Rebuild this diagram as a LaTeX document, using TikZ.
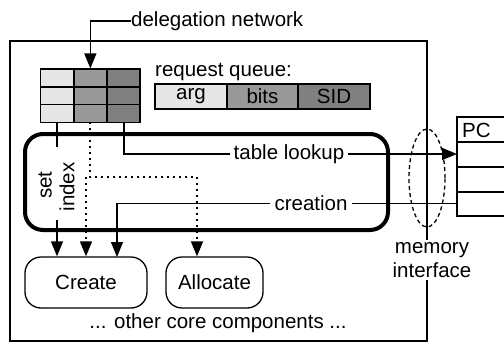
\documentclass[tikz,border=0pt]{standalone}
\usepackage{fontspec}
\setmainfont{Liberation Sans}
\usetikzlibrary{arrows.meta}
\definecolor{lg}{HTML}{E6E6E6}
\definecolor{mg}{HTML}{999999}
\definecolor{dg}{HTML}{808080}
\begin{document}
\begin{tikzpicture}[x=1pt,y=-1pt,
  font=\fontsize{20.5}{24}\selectfont,
  thinln/.style={line width=1.3pt},
  arr/.style={thinln,-{Triangle[length=15pt,width=12pt]}},
  dotln/.style={line width=1.6pt,dash pattern=on 1.6pt off 4.4pt},
  dotarr/.style={dotln,-{Triangle[length=15pt,width=12pt]}},
  cellbox/.style={draw,line width=1.4pt,minimum width=33.1pt,minimum height=17.7pt,inner sep=0pt},
  qcell/.style={draw,line width=1.4pt,minimum height=25pt,inner sep=0pt},
  lbl/.style={inner sep=4pt},
  comp/.style={draw,thinln,rounded corners=16pt,minimum width=122pt,minimum height=51pt,inner sep=0pt}]
\useasboundingbox (0,0) rectangle (504,343);

% outer box
\draw[thinln] (10,41) rectangle (427,341);

% table
\foreach \r/\y in {1/78.0,2/95.7,3/113.4}{
  \node[cellbox,fill=lg] (t\r a) at (57.25,\y) {};
  \node[cellbox,fill=mg] (t\r b) at (90.35,\y) {};
  \node[cellbox,fill=dg] (t\r c) at (123.45,\y) {};
}
\coordinate (c1) at (57,122.3);
\coordinate (c2) at (90,122.3);
\coordinate (c3) at (124,122.3);

% delegation network
\node[anchor=west,inner sep=0pt] (deleg) at (131,21) {delegation network};
\draw[arr] (deleg.west) -| (t1b.north);

% request queue
\node[anchor=west,inner sep=0pt] (rq) at (155,72) {request queue:};
\node[qcell,fill=lg,minimum width=72pt] (arg) at (191,96.5) {arg};
\node[qcell,fill=mg,minimum width=71pt] (bits) at (262.5,96.5) {bits};
\node[qcell,fill=dg,minimum width=72pt] (sid) at (334,96.5) {SID};

% thick rounded box
\draw[line width=4pt,rounded corners=18pt] (25,134) rectangle (388,230);

% components
\node[comp] (create) at (86,282.5) {Create};
\node[comp,minimum width=97pt] (alloc) at (214.5,282.5) {Allocate};
\node (other) at (218,323) {... other core components ...};

% set index
\node[rotate=90,inner sep=0pt] (set) at (45,185) {set};
\node[rotate=90,inner sep=0pt] (index) at (67,187) {index};
\draw[thinln] (c1) -- (57,147);
\coordinate (s1) at (57,220);
\draw[arr] (s1) -- (s1 |- create.north);

% dotted
\coordinate (j1) at (90,177);
\coordinate (j2) at (86,177);
\coordinate (j3) at (197,177);
\draw[dotln] (c2) -- (j1) -- (j3);
\draw[dotarr] (j3) -- (j3 |- alloc.north);
\draw[dotarr] (j2) -- (j2 |- create.north);

% PC box
\coordinate (pctl) at (457,117);
\draw[thinln] (510,117) -- (pctl) -- (457,216) -- (510,216);
\foreach \y in {142,167,192}{\draw[thinln] (457,\y) -- (510,\y);}
\node[anchor=west,inner sep=0pt] (pc) at (462,130) {PC};
\coordinate (pcl) at (457,154);
\coordinate (pcc) at (457,203.5);

% table lookup
\node[lbl] (lookup) at (289,154) {table lookup};
\draw[thinln] (c3) |- (lookup.west);
\draw[arr] (lookup.east) -- (pcl);

% creation
\node[lbl] (creation) at (311,203.5) {creation};
\draw[thinln] (pcc) -- (creation.east);
\draw[arr] (creation.west) -| (117,257);

% memory interface
\draw[thinln,dash pattern=on 4pt off 3pt] (427,178) ellipse [x radius=18pt, y radius=49pt];
\node[fill=white,align=center,inner sep=2pt] (mem) at (432,260) {memory\\interface};
\end{tikzpicture}
\end{document}
